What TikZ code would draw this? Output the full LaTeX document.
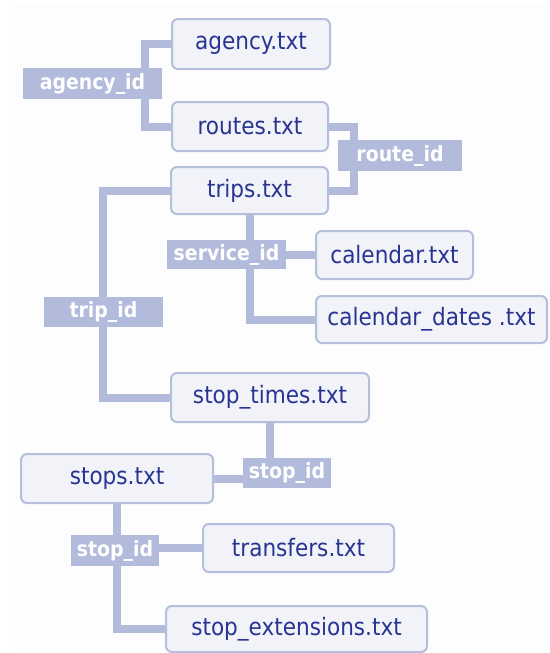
\documentclass[tikz,border=0pt]{standalone}
\usepackage{fontspec}
\newfontfamily\gtfsfont{DejaVu Sans Condensed}
\usetikzlibrary{backgrounds}
\definecolor{tagblue}{RGB}{179,187,220}
\definecolor{boxfill}{RGB}{242,243,249}
\definecolor{boxline}{RGB}{182,190,221}
\definecolor{navy}{RGB}{40,52,145}
\begin{document}
\begin{tikzpicture}[x=1pt,y=-1pt,file/.style={draw=boxline,line width=2pt,fill=boxfill,rounded corners=6pt,text=navy,inner sep=0pt,font=\gtfsfont\fontsize{24}{27}\selectfont},idtag/.style={fill=tagblue,text=white,inner sep=0pt,font=\gtfsfont\bfseries\fontsize{21}{24}\selectfont},link/.style={draw=tagblue,line width=8pt}]
\useasboundingbox (0,0) rectangle (549,653);
% tables
\node[file,minimum width=158pt,minimum height=50pt] (agency) at (251,44) {agency.txt};
\node[file,minimum width=156pt,minimum height=49pt] (routes) at (250,126.5) {routes.txt};
\node[file,minimum width=157pt,minimum height=47pt] (trips) at (249.5,190.5) {trips.txt};
\node[file,minimum width=157pt,minimum height=48pt] (calendar) at (394.5,255) {calendar.txt};
\node[file,minimum width=231pt,minimum height=47pt] (caldates) at (431.5,319.5) {calendar\_dates .txt};
\node[file,minimum width=198pt,minimum height=49pt] (stoptimes) at (270,397.5) {stop\_times.txt};
\node[file,minimum width=192pt,minimum height=49pt] (stops) at (117,478.5) {stops.txt};
\node[file,minimum width=191pt,minimum height=48pt] (transfers) at (298.5,548) {transfers.txt};
\node[file,minimum width=261pt,minimum height=46pt] (stopext) at (296.5,629) {stop\_extensions.txt};
% connectors
\begin{scope}[on background layer]
\fill[white] (0,0) rectangle (549,653);
\fill[black!0.7] (10,5) rectangle (549,653);
\draw[link] (agency.west) -- ++(-26,0) |- (routes.west);
\draw[link] (routes.east) -- ++(25,0) |- (trips.east);
\draw[link] (trips.west) -- ++(-67,0) |- (stoptimes.west);
\draw[link] (trips.south) |- (calendar.west); \draw[link] (trips.south) |- (caldates.west);
\draw[link] (stoptimes.south) |- (stops.east);
\draw[link] (stops.south) |- (transfers.west); \draw[link] (stops.south) |- (stopext.west);
\end{scope}
% key labels
\node[idtag,minimum width=139pt,minimum height=31pt] (agencyid) at (92.5,83.5) {agency\_id};
\node[idtag,minimum width=124pt,minimum height=31pt] (routeid) at (400,155.5) {route\_id};
\node[idtag,minimum width=119pt,minimum height=29pt] (serviceid) at (226.5,254.5) {service\_id};
\node[idtag,minimum width=119pt,minimum height=30pt] (tripid) at (103.5,312) {trip\_id};
\node[idtag,minimum width=88pt,minimum height=30pt] (stopidA) at (287,473) {stop\_id};
\node[idtag,minimum width=88pt,minimum height=31pt] (stopidB) at (115,550.5) {stop\_id};
\end{tikzpicture}
\end{document}
